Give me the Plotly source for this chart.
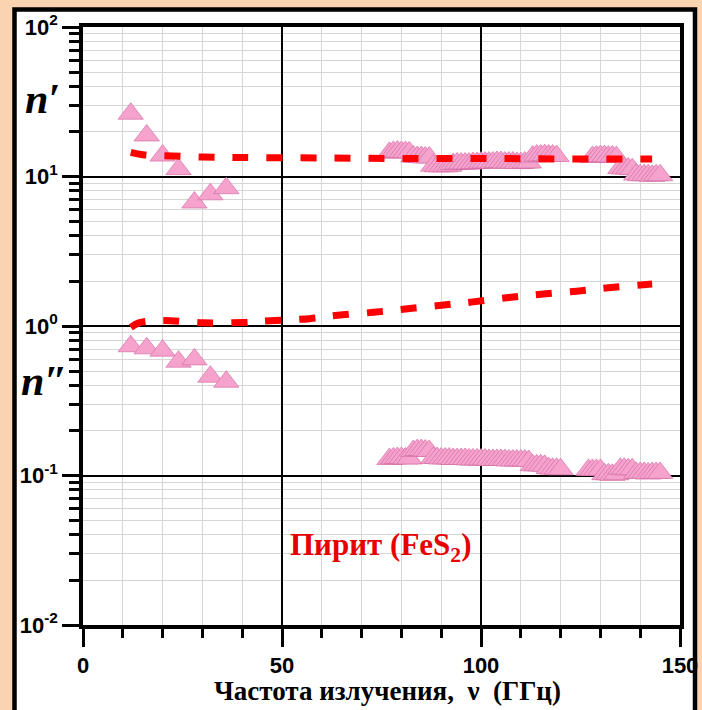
import plotly.graph_objects as go

# ---------------- data ----------------
freq_lo = [12, 16, 20, 24, 28, 32, 36]
nprime_lo = [26.3, 18.8, 13.8, 11.2, 6.7, 7.6, 8.35]
ndprime_lo = [0.732, 0.709, 0.684, 0.577, 0.598, 0.458, 0.424]

freq_hi_np = [77, 78, 79, 80, 81, 82,
              83, 84, 85, 86, 87,
              88, 89, 90, 91, 92,
              93, 94, 95, 96, 97, 98, 99,
              100, 101, 102, 103, 104, 105, 106, 107, 108, 109, 110, 111, 112,
              113, 114, 115, 116, 117, 118, 119,
              128, 129, 130, 131, 132, 133, 134,
              135, 136, 137, 138,
              139, 140, 141, 142, 143, 144, 145]
nprime_hi = [14.4, 14.6, 14.7, 14.6, 14.6, 14.5,
             13.6, 13.5, 13.5, 13.4, 13.4,
             11.8, 11.7, 11.7, 11.7, 11.8,
             12.1, 12.2, 12.2, 12.2, 12.2, 12.3, 12.3,
             12.4, 12.4, 12.4, 12.4, 12.5, 12.5, 12.4, 12.4, 12.4, 12.3, 12.3, 12.4, 12.4,
             13.6, 13.8, 13.8, 13.9, 13.8, 13.8, 13.7,
             13.5, 13.6, 13.7, 13.7, 13.6, 13.6, 13.5,
             11.4, 11.3, 11.3, 11.2,
             10.3, 10.2, 10.2, 10.2, 10.1, 10.2, 10.2]

freq_hi_ndp = [77, 78, 79, 80, 81, 82,
               83, 84, 85, 86, 87,
               88, 89, 90, 91, 92, 93, 94, 95, 96, 97, 98, 99, 100,
               101, 102, 103, 104, 105, 106, 107, 108, 109, 110, 111, 112,
               113, 114, 115, 116,
               117, 118, 119, 120,
               127, 128, 129, 130,
               131, 132, 133, 134,
               135, 136, 137, 138,
               139, 140, 141, 142, 143, 144, 145]
ndprime_hi = [0.129, 0.130, 0.131, 0.131, 0.130, 0.130,
              0.146, 0.148, 0.148, 0.147, 0.146,
              0.131, 0.131, 0.130, 0.130, 0.130, 0.129, 0.129, 0.129, 0.129, 0.128, 0.128, 0.128, 0.128,
              0.128, 0.127, 0.127, 0.127, 0.127, 0.127, 0.126, 0.126, 0.126, 0.126, 0.126, 0.125,
              0.117, 0.117, 0.117, 0.116,
              0.112, 0.111, 0.111, 0.110,
              0.109, 0.109, 0.109, 0.109,
              0.102, 0.102, 0.101, 0.102,
              0.111, 0.111, 0.110, 0.110,
              0.104, 0.104, 0.104, 0.103, 0.104, 0.104, 0.104]

fit_np_x = [12, 15, 20, 30, 40, 60, 80, 100, 120, 143]
fit_np_y = [14.5, 14.0, 13.8, 13.5, 13.4, 13.3, 13.2, 13.2, 13.1, 13.1]

fit_ndp_x = [12, 14, 17, 22, 30, 40, 47, 57, 64, 73, 81, 90, 98, 107, 115, 124, 132, 143]
fit_ndp_y = [0.98, 1.05, 1.08, 1.085, 1.05, 1.055, 1.085, 1.12, 1.18, 1.235, 1.30,
             1.375, 1.45, 1.55, 1.63, 1.71, 1.80, 1.91]

x_tickvals = [0, 50, 100, 150]
x_ticktext = ["0", "50", "100", "150"]
y_tickvals = [0.01, 0.1, 1, 10, 100]
y_ticktext = ["10<sup>-2</sup>", "10<sup>-1</sup>", "10<sup>0</sup>", "10<sup>1</sup>", "10<sup>2</sup>"]
y_minor = [m * 10.0 ** e for e in (-2, -1, 0, 1) for m in (2, 3, 4, 5, 6, 7, 8, 9)]

x_title = "Частота излучения,  ν  (ГГц)"
label_text = "Пирит (FeS<sub>2</sub>)"

# ---------------- styling ----------------
W, H = 702, 710
L, R, T, B = 83, 22, 27, 85
PW, PH = W - L - R, H - T - B


def px(xp):
    return (xp - L) / PW


def py(yp):
    return (H - B - yp) / PH


tri_fill = "#F5A3CC"
tri_edge = "#D46FA6"
sans = "Liberation Sans, Arial, sans-serif"
serif = "Liberation Serif, Times New Roman, serif"

fig = go.Figure()

marker = dict(symbol="triangle-up", size=22, color=tri_fill,
              line=dict(color=tri_edge, width=0.7))

for xs, ys in [(freq_lo, nprime_lo), (freq_hi_np, nprime_hi),
               (freq_lo, ndprime_lo), (freq_hi_ndp, ndprime_hi)]:
    fig.add_trace(go.Scatter(x=xs, y=ys, mode="markers", marker=marker,
                             showlegend=False, hoverinfo="skip"))

for xs, ys in [(fit_np_x, fit_np_y), (fit_ndp_x, fit_ndp_y)]:
    fig.add_trace(go.Scatter(x=xs, y=ys, mode="lines",
                             line=dict(color="#FF0000", width=7, dash="16px,18px",
                                       shape="spline"),
                             showlegend=False, hoverinfo="skip"))

fig.update_xaxes(
    range=[0, 150], tickmode="array", tickvals=x_tickvals, ticktext=x_ticktext,
    ticks="outside", ticklen=18, tickwidth=3, tickcolor="black",
    showline=True, linewidth=3.5, linecolor="black", mirror=True,
    showgrid=True, gridcolor="black", gridwidth=2, zeroline=False,
    tickfont=dict(family=sans, size=22, color="black", weight="bold"),
    minor=dict(dtick=10, tick0=0, ticks="outside", ticklen=9, tickwidth=2.5,
               tickcolor="black", showgrid=True, gridcolor="#D6D6D6", gridwidth=1),
)
fig.update_yaxes(
    type="log", range=[-2, 2], tickmode="array", tickvals=y_tickvals, ticktext=y_ticktext,
    ticks="outside", ticklen=17, tickwidth=3, tickcolor="black",
    showline=True, linewidth=3.5, linecolor="black", mirror=True,
    showgrid=True, gridcolor="black", gridwidth=2, zeroline=False,
    tickfont=dict(family=sans, size=22, color="black", weight="bold"),
    minor=dict(tickmode="array", tickvals=y_minor, ticks="outside", ticklen=10,
               tickwidth=2.5, tickcolor="black", showgrid=True,
               gridcolor="#D6D6D6", gridwidth=1),
)

shapes = [
    # outer black frame with white inside
    dict(type="rect", xref="paper", yref="paper", layer="below",
         x0=px(14.5), x1=px(695), y0=py(730), y1=py(9.5),
         line=dict(color="black", width=4.5), fillcolor="white"),
    # white label box
    dict(type="rect", xref="paper", yref="paper", layer="between",
         x0=px(280), x1=px(483), y0=py(577), y1=py(520),
         line=dict(width=0), fillcolor="white", opacity=0.72),
]

annotations = [
    dict(text="<b><i>n′</i></b>", xref="paper", yref="paper", x=px(42), y=py(99),
         showarrow=False, font=dict(family=serif, size=42, color="black"),
         xanchor="center", yanchor="middle"),
    dict(text="<b><i>n″</i></b>", xref="paper", yref="paper", x=px(44), y=py(381),
         showarrow=False, font=dict(family=serif, size=42, color="black"),
         xanchor="center", yanchor="middle"),
    dict(text="<b>" + label_text + "</b>", xref="paper", yref="paper",
         x=px(381), y=py(547), showarrow=False,
         font=dict(family=serif, size=31, color="#E60000"),
         xanchor="center", yanchor="middle"),
    dict(text="<b>" + x_title + "</b>", xref="paper", yref="paper",
         x=px(387), y=py(691), showarrow=False,
         font=dict(family=serif, size=27, color="black"),
         xanchor="center", yanchor="middle"),
]

fig.update_layout(
    width=W, height=H,
    margin=dict(l=L, r=R, t=T, b=B, autoexpand=False),
    paper_bgcolor="#FAD3B1", plot_bgcolor="white",
    shapes=shapes, annotations=annotations,
    showlegend=False,
)

fig.write_html(
    "out.html",
    config={"displayModeBar": False},
    post_script="document.body.style.margin='0px';document.body.style.padding='0px';"
                "document.body.style.overflow='hidden';",
)
